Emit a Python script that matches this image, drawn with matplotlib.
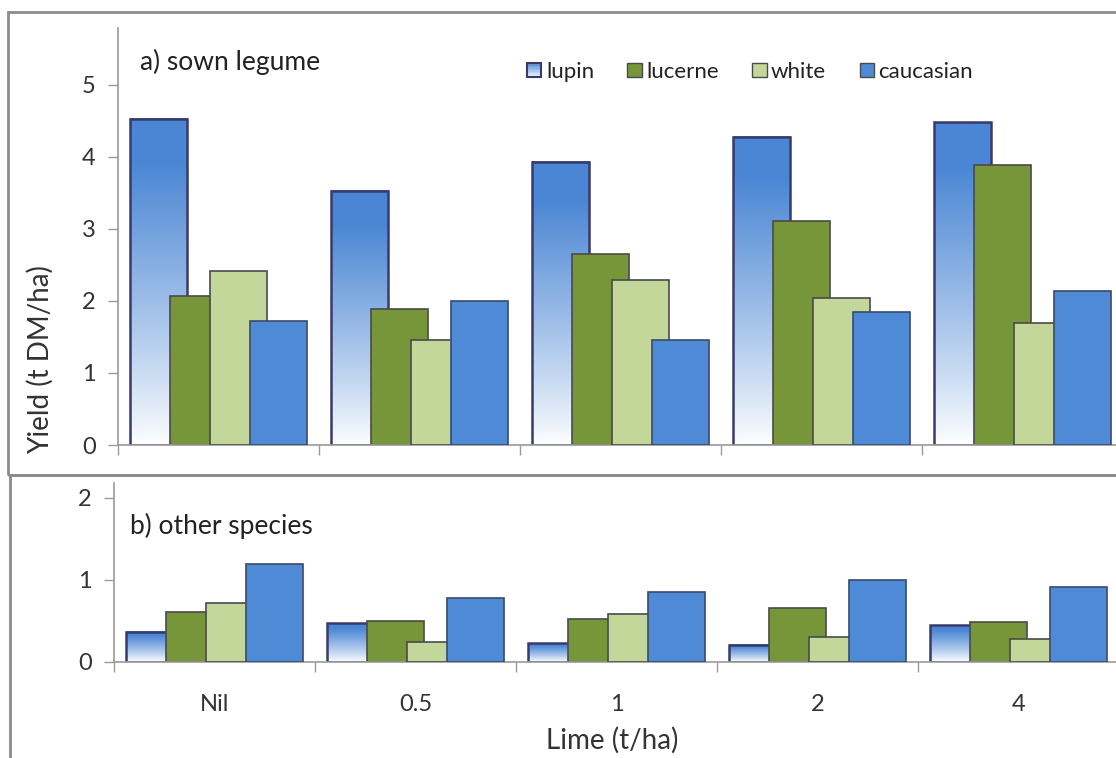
import numpy as np
import matplotlib
matplotlib.use("Agg")
import matplotlib.pyplot as plt
from matplotlib.patches import Rectangle
from matplotlib.legend_handler import HandlerBase
from matplotlib.colors import to_rgb

plt.rcParams['font.family'] = ['Lato', 'DejaVu Sans']

categories = ["Nil", "0.5", "1", "2", "4"]
series = ["lupin", "lucerne", "white", "caucasian"]

sown_lupin = [4.53, 3.53, 3.93, 4.28, 4.48]
sown_lucerne = [2.07, 1.89, 2.65, 3.11, 3.89]
sown_white = [2.42, 1.46, 2.29, 2.04, 1.70]
sown_caucasian = [1.72, 2.00, 1.46, 1.85, 2.14]

other_lupin = [0.37, 0.47, 0.23, 0.21, 0.45]
other_lucerne = [0.61, 0.50, 0.52, 0.66, 0.49]
other_white = [0.72, 0.24, 0.58, 0.31, 0.28]
other_caucasian = [1.19, 0.78, 0.85, 1.00, 0.91]

C_LUP_TOP = "#4a86d4"
C_LUCERNE = "#77963a"
C_WHITE = "#c4d79a"
C_CAUC = "#4f8ad6"
EDGE_LUP = "#3a3a6a"
EDGE = "#4a4a4a"
TXT = "#333333"

W, H = 1116, 758
fig = plt.figure(figsize=(W / 100, H / 100), dpi=100)

# chart frames
frame_col = "#8c8c8c"
fig.patches.append(Rectangle((8 / W, 1 - 475 / H), 1.1, (475 - 12) / H, transform=fig.transFigure,
                             fill=False, edgecolor=frame_col, linewidth=2, zorder=0))
fig.patches.append(Rectangle((10 / W, -0.05), 1.1, 0.05 + (H - 475) / H, transform=fig.transFigure,
                             fill=False, edgecolor=frame_col, linewidth=2, zorder=0))

ax1 = fig.add_axes([118 / W, 1 - 445 / H, 1005 / W, 417 / H])
ax2 = fig.add_axes([114 / W, 1 - 662 / H, 1005 / W, 179 / H])

width = 0.284
step = 0.199
offsets = [-1.5 * step, -0.5 * step, 0.5 * step, 1.5 * step]

grad = np.linspace(0, 1, 256).reshape(-1, 1)
top_rgb = np.array(to_rgb(C_LUP_TOP))
white_rgb = np.array([1.0, 1.0, 1.0])


def gradient_img():
    t = grad  # 0 bottom -> 1 top
    t2 = np.clip(t * 1.15, 0, 1) ** 0.9
    img = white_rgb * (1 - t2) + top_rgb * t2
    img = img.reshape(256, 1, 3)
    return img[::-1]


def draw(ax, lup, luc, wht, cau, ymax, yticks):
    centers = np.arange(len(categories)) + 0.5
    img = gradient_img()
    for c, v in zip(centers + offsets[0], lup):
        ax.imshow(img, extent=[c - width / 2, c + width / 2, 0, v], aspect='auto',
                  zorder=1, interpolation='bilinear')
    ax.bar(centers + offsets[0], lup, width, facecolor='none', edgecolor=EDGE_LUP,
           linewidth=1.8, zorder=1.5)
    ax.bar(centers + offsets[1], luc, width, color=C_LUCERNE, edgecolor=EDGE, linewidth=1.2, zorder=2)
    ax.bar(centers + offsets[2], wht, width, color=C_WHITE, edgecolor=EDGE, linewidth=1.2, zorder=3)
    ax.bar(centers + offsets[3], cau, width, color=C_CAUC, edgecolor="#3a4a6a", linewidth=1.2, zorder=4)
    ax.set_xlim(0, len(categories))
    ax.set_ylim(0, ymax)
    ax.set_yticks(yticks)
    ax.set_yticklabels([str(t) for t in yticks])
    ax.set_xticks(np.arange(len(categories) + 1))
    ax.set_xticklabels([])
    ax.set_xticks(centers, minor=True)
    ax.tick_params(axis='x', which='major', length=7, width=1, color="#9a9a9a", direction='out')
    ax.tick_params(axis='x', which='minor', length=0)
    ax.tick_params(axis='y', length=7, width=1, color="#9a9a9a", labelsize=17, labelcolor=TXT, pad=9)
    for s in ['top', 'right']:
        ax.spines[s].set_visible(False)
    ax.spines['left'].set_color("#9a9a9a")
    ax.spines['bottom'].set_color("#9a9a9a")
    ax.spines['left'].set_linewidth(1.2)
    ax.spines['bottom'].set_linewidth(1.2)
    ax.set_facecolor('none')


draw(ax1, sown_lupin, sown_lucerne, sown_white, sown_caucasian, 5.79, [0, 1, 2, 3, 4, 5])
draw(ax2, other_lupin, other_lucerne, other_white, other_caucasian, 2.18, [0, 1, 2])

ax2.set_xticks(np.arange(len(categories)) + 0.5, minor=True)
ax2.set_xticklabels(categories, minor=True)
ax2.tick_params(axis='x', which='minor', labelsize=17, labelcolor=TXT, pad=23)

ax1.text(140 / W, 1 - 62 / H, "a) sown legume", transform=fig.transFigure, fontsize=19,
         color="#222222", va='center', ha='left')
ax2.text(130 / W, 1 - 526 / H, "b) other species", transform=fig.transFigure, fontsize=19,
         color="#222222", va='center', ha='left')
fig.text(40 / W, 1 - 360 / H, "Yield (t DM/ha)", rotation=90, fontsize=20, color=TXT,
         va='center', ha='center')
fig.text(612 / W, 1 - 740 / H, "Lime (t/ha)", fontsize=20, color=TXT, va='center', ha='center')


class GradHandler(HandlerBase):
    def create_artists(self, legend, orig_handle, xdescent, ydescent, width_, height_, fontsize, trans):
        size = min(width_, height_)
        x0 = xdescent * -1 + (width_ - size) / 2
        y0 = -ydescent + (height_ - size) / 2
        arts = []
        n = 10
        for i in range(n):
            t = (i + 0.5) / n
            col = white_rgb * (1 - t) + top_rgb * t
            r = Rectangle((x0, y0 + size * i / n), size, size / n, facecolor=col, edgecolor='none',
                          transform=trans)
            arts.append(r)
        arts.append(Rectangle((x0, y0), size, size, facecolor='none', edgecolor=EDGE_LUP,
                              linewidth=1.5, transform=trans))
        return arts


class SquareHandler(HandlerBase):
    def create_artists(self, legend, orig_handle, xdescent, ydescent, width_, height_, fontsize, trans):
        size = min(width_, height_)
        x0 = -xdescent + (width_ - size) / 2
        y0 = -ydescent + (height_ - size) / 2
        r = Rectangle((x0, y0), size, size, facecolor=orig_handle.get_facecolor(),
                      edgecolor=EDGE, linewidth=1.0, transform=trans)
        return [r]


h_lup = Rectangle((0, 0), 1, 1)
h_luc = Rectangle((0, 0), 1, 1, facecolor=C_LUCERNE)
h_wht = Rectangle((0, 0), 1, 1, facecolor=C_WHITE)
h_cau = Rectangle((0, 0), 1, 1, facecolor=C_CAUC)
leg = fig.legend([h_lup, h_luc, h_wht, h_cau], series, ncol=4, frameon=False,
                 loc='center left', bbox_to_anchor=(527 / W, 1 - 72 / H), borderpad=0,
                 borderaxespad=0,
                 handler_map={h_lup: GradHandler(), h_luc: SquareHandler(), h_wht: SquareHandler(),
                              h_cau: SquareHandler()},
                 handlelength=0.65, handleheight=0.65, handletextpad=0.2, columnspacing=1.5,
                 fontsize=16, labelcolor="#222222")

fig.savefig("out.png", dpi=100, facecolor='white')
